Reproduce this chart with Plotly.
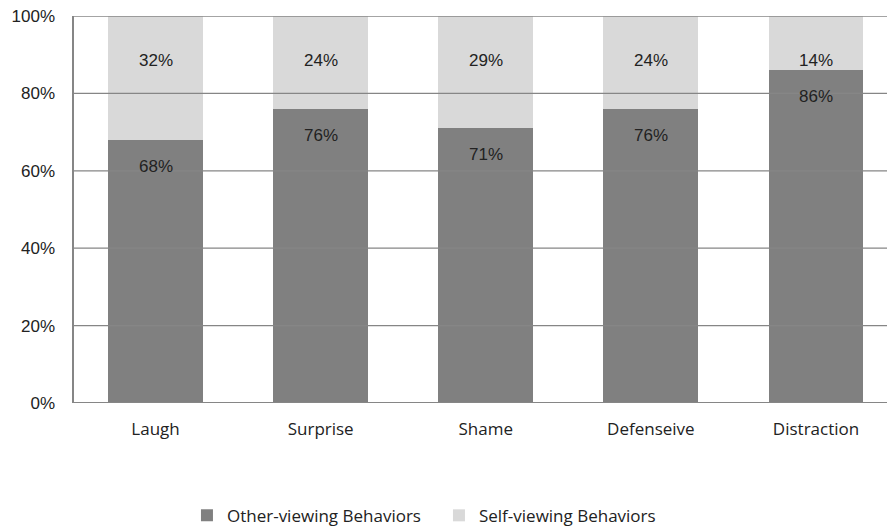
import plotly.graph_objects as go

categories = ["Laugh", "Surprise", "Shame", "Defenseive", "Distraction"]
other_viewing = [68, 76, 71, 76, 86]
self_viewing = [32, 24, 29, 24, 14]
y_ticks = [0, 20, 40, 60, 80, 100]
y_tick_labels = ["0%", "20%", "40%", "60%", "80%", "100%"]
series_names = ["Other-viewing Behaviors", "Self-viewing Behaviors"]

DARK = "#808080"
LIGHT = "#d9d9d9"
AXIS = "#868686"
ARIAL = "Liberation Sans, Arial, sans-serif"
CALIBRI = "Open Sans, sans-serif"

fig = go.Figure()
fig.add_trace(go.Bar(x=categories, y=other_viewing, name=series_names[0],
                     marker=dict(color=DARK, line=dict(width=0)), width=0.575))
fig.add_trace(go.Bar(x=categories, y=self_viewing, name=series_names[1],
                     marker=dict(color=LIGHT, line=dict(width=0)), width=0.575))

annotations = []
for c, o, s in zip(categories, other_viewing, self_viewing):
    annotations.append(dict(x=c, y=o - 6.9, text=f"{o}%", showarrow=False,
                            font=dict(family=ARIAL, size=17, color="#222222")))
    annotations.append(dict(x=c, y=o + s - 11.5, text=f"{s}%", showarrow=False,
                            font=dict(family=ARIAL, size=17, color="#222222")))

shapes = []
for t in y_ticks[1:]:
    shapes.append(dict(type="line", xref="paper", yref="y", x0=0, x1=1, y0=t, y1=t,
                       line=dict(color=AXIS, width=1.3), layer="above"))
shapes.append(dict(type="line", xref="paper", yref="y", x0=0, x1=1, y0=0, y1=0,
                   line=dict(color=AXIS, width=2), layer="above"))
shapes.append(dict(type="line", xref="paper", yref="y", x0=0, x1=0, y0=0, y1=100,
                   line=dict(color=AXIS, width=2), layer="above"))

fig.update_layout(
    barmode="stack",
    width=887, height=529,
    margin=dict(l=73, r=0, t=16, b=126),
    plot_bgcolor="white", paper_bgcolor="white",
    bargap=0.425,
    showlegend=True,
    legend=dict(orientation="h", x=0.14, xanchor="left",
                yref="container", y=0.025, yanchor="middle",
                font=dict(family=CALIBRI, size=17, color="#222222"),
                entrywidth=207, entrywidthmode="pixels", traceorder="normal"),
    annotations=annotations,
    shapes=shapes,
    xaxis=dict(range=[-0.5, 4.43], showgrid=False, showline=False, zeroline=False,
               ticks="", ticklabelstandoff=14, automargin=False,
               tickfont=dict(family=CALIBRI, size=17, color="#222222"), fixedrange=True),
    yaxis=dict(range=[0, 100], tickvals=y_ticks, ticktext=y_tick_labels,
               showgrid=False, zeroline=False, showline=False, ticks="",
               ticklabelstandoff=17, automargin=False,
               tickfont=dict(family=ARIAL, size=17, color="#222222")),
)

fig.write_html("out.html")
